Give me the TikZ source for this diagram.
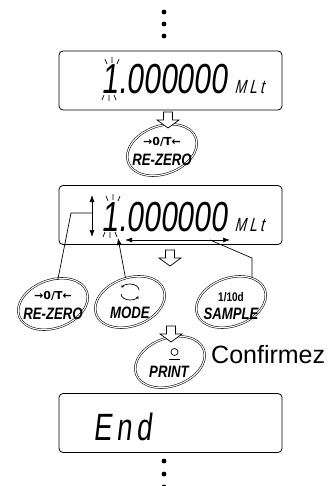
\documentclass[tikz,border=0pt]{standalone}
\usepackage{fontspec}
\setmainfont{Liberation Sans}
\newfontfamily\lcdfont[FakeSlant=0.12,FakeStretch=0.72]{Liberation Sans}
\newfontfamily\keyfont[FakeStretch=0.8]{Liberation Sans}
\newfontfamily\glyphfont{DejaVu Sans}
\usetikzlibrary{arrows.meta,positioning,shapes.geometric}
\tikzset{lcd/.style={draw,line width=0.8pt,rounded corners=4pt,minimum width=223pt,minimum height=59pt,inner sep=0pt},digits/.style={font=\lcdfont\fontsize{42}{42}\selectfont,anchor=base west,inner sep=0pt},unittxt/.style={font=\lcdfont\itshape\fontsize{19}{19}\selectfont,anchor=base west,inner sep=0pt},btn/.style={ellipse,minimum width=72pt,minimum height=48pt,inner sep=0pt},ring/.style={draw,line width=0.55pt,double=white,double distance=1.1pt},keysym/.style={font=\glyphfont\bfseries\fontsize{11}{11}\selectfont,inner sep=0pt},keylbl/.style={font=\keyfont\bfseries\itshape\fontsize{16.5}{16.5}\selectfont,inner sep=0pt},link/.style={line width=0.7pt},ptr/.style={link,-{Latex[length=7pt,width=5pt]}},spanarr/.style={link,{Latex[length=7pt,width=5pt]}-{Latex[length=7pt,width=5pt]}},hollow/.style={draw,fill=white,line width=0.7pt,line join=miter},downarr/.pic={\draw[hollow] (-4.5,0) -- (4.5,0) -- (4.5,8) -- (11,8) -- (0,16) -- (-11,8) -- (-4.5,8) -- cycle;},blink/.pic={\draw[line width=0.7pt] (-6,-20) -- (-4,-15) (1,-22) -- (1,-16) (8,-20) -- (6,-15) (-9,21) -- (-7,16) (-2,22) -- (-2,16) (3,16) -- (5,21);}}

\begin{document}
\begin{tikzpicture}[x=1pt,y=-1pt]
\useasboundingbox (0,0) rectangle (332,486);
\foreach \y in {12,24,36,461,474,487}{\fill (164,\y) circle (2.4);}
\node[lcd] (lcdA) at (170.5,80.5) {};
\node[digits] (valA) at (101,94) {1.000000};
\node[unittxt] (unitA) at (235,94) {M\,L\,t};
\pic at (111,79) {blink};
\node[btn] (bTop) at (162,150) {};
\node[lcd] (lcdB) at (170.5,215) {};
\node[digits] (valB) at (101,231) {1.000000};
\node[unittxt] (unitB) at (235,231) {M\,L\,t};
\pic at (112,216) {blink};
\node[btn] (bRz) at (53,304) {};
\node[btn] (bMd) at (130,302) {};
\node[btn] (bSm) at (231,302) {};
\node[btn] (bPr) at (170,362) {};
\foreach \b in {bTop,bRz,bMd,bSm,bPr}{\draw[ring,rotate around={20:(\b)}] (\b) ellipse (36 and 24);}
\node[keysym] (symTop) at (162,142) {→0/T←};
\node[keylbl] (lblTop) at (162,160) {RE-ZERO};
\node[keysym] (symRz) at (53,296) {→0/T←};
\node[keylbl] (lblRz) at (53,314) {RE-ZERO};
\node[keylbl] (lblMd) at (130,313) {MODE};
\draw[link,-{Stealth[length=3pt,width=3pt]}] (bMd) ++(-9,-8) arc[start angle=180,end angle=20,x radius=9,y radius=6];
\draw[link,-{Stealth[length=3pt,width=3pt]}] (bMd) ++(9,-12) arc[start angle=0,end angle=-160,x radius=9,y radius=6];
\node[keysym,font=\keyfont\bfseries\fontsize{12.5}{12.5}\selectfont] (symSm) at (231,297) {1/10d};
\node[keylbl] (lblSm) at (231,314) {SAMPLE};
\draw[link] (bPr) ++(4.5,-10) circle (3.5);
\draw[link] (bPr) ++(-1,-3) -- ++(11,0);
\node[keylbl] (lblPr) at (169,372) {PRINT};
\node[anchor=base west,inner sep=0pt,font=\fontsize{25}{25}\selectfont] (conf) at (211,363) {Confirmez};
\node[lcd] (lcdC) at (170.5,423) {};
\node[digits,font=\lcdfont\fontsize{38}{38}\selectfont] (valC) at (93,440) {E\hspace{5pt}n\hspace{5pt}d};
\pic at (168,112) {downarr};
\pic at (170,250) {downarr};
\pic at (171,326) {downarr};
\coordinate (updTop) at (92,195);
\coordinate (updBot) at (92,237);
\coordinate (updMid) at (92,213);
\draw[spanarr] (updTop) -- (updBot);
\draw[link] (updMid) -- ++(-21,0) -- (bRz);
\coordinate (ptTip) at (118,238);
\draw[ptr] (bMd) -- (ptTip);
\coordinate (spanL) at (125,240);
\coordinate (spanR) at (230,240);
\coordinate (spanK) at (210,240);
\draw[spanarr] (spanL) -- (spanR);
\draw[link] (spanK) -- (252,258) -- (252,258 |- bSm.north);
\end{tikzpicture}
\end{document}
